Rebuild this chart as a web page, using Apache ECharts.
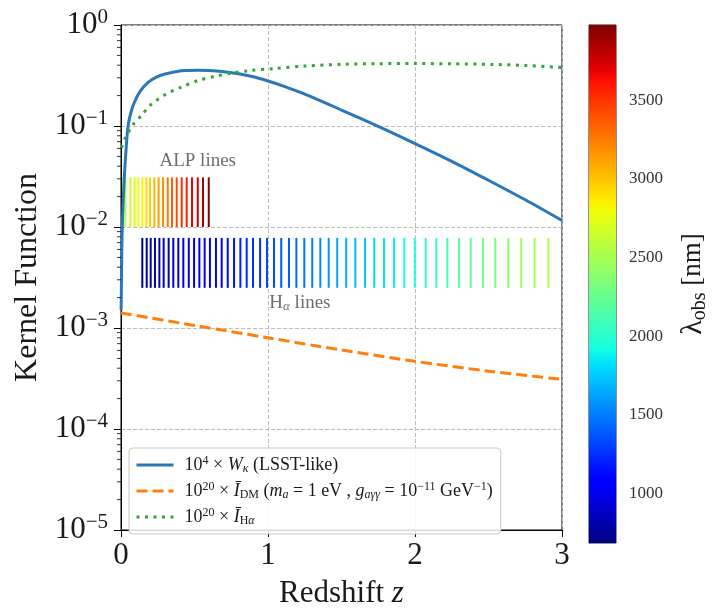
<!DOCTYPE html>
<html><head><meta charset="utf-8">
<script src="https://cdn.jsdelivr.net/npm/echarts@6/dist/echarts.min.js"></script>
<style>html,body{margin:0;padding:0;background:#fff}#c{width:715px;height:614px}</style>
</head><body><div id="c"></div>
<script>
// ---------- data ----------
const blueZ = [0.001, 0.004, 0.007, 0.015, 0.025, 0.035, 0.048, 0.07, 0.093, 0.13, 0.184, 0.24, 0.3, 0.41, 0.46, 0.52, 0.6, 0.7, 0.8, 0.9, 1.0, 1.1, 1.25, 1.5, 1.75, 2.0, 2.25, 2.5, 2.75, 3.0];
const blueV = [0.0015, 0.004, 0.008, 0.018, 0.036, 0.06, 0.1, 0.14, 0.174, 0.22, 0.27, 0.305, 0.327, 0.352, 0.355, 0.357, 0.355, 0.345, 0.329, 0.307, 0.279, 0.25, 0.207, 0.144, 0.099, 0.067, 0.0447, 0.029, 0.0186, 0.0116];
const orangeZ = [0, 0.5, 1.0, 1.5, 2.0, 2.5, 3.0];
const orangeV = [0.00141, 0.00106, 0.0008, 0.000606, 0.000468, 0.000374, 0.00031];
const greenZ = [0.003, 0.025, 0.082, 0.139, 0.2, 0.302, 0.411, 0.524, 0.637, 0.751, 0.864, 1.046, 1.25, 1.51, 1.75, 2.0, 2.25, 2.53, 2.75, 2.96, 3.0];
const greenV = [0.061, 0.074, 0.103, 0.127, 0.161, 0.205, 0.243, 0.282, 0.31, 0.334, 0.352, 0.371, 0.392, 0.409, 0.414, 0.415, 0.413, 0.407, 0.398, 0.383, 0.38];
// redshifts of the H-alpha channel lines and ALP channel lines
const haZ = [0.145, 0.175, 0.202, 0.231, 0.261, 0.290, 0.324, 0.356, 0.390, 0.424, 0.461, 0.497, 0.533, 0.569, 0.605, 0.646, 0.685, 0.726, 0.769, 0.812, 0.855, 0.898, 0.946, 0.993, 1.041, 1.090, 1.143, 1.193, 1.247, 1.301, 1.356, 1.413, 1.471, 1.532, 1.594, 1.660, 1.723, 1.789, 1.857, 1.927, 1.998, 2.073, 2.145, 2.220, 2.299, 2.379, 2.463, 2.546, 2.635, 2.723, 2.814, 2.907];
const alpZ = [0.014, 0.030, 0.064, 0.093, 0.118, 0.146, 0.173, 0.197, 0.227, 0.256, 0.286, 0.318, 0.347, 0.379, 0.413, 0.447, 0.483, 0.522, 0.558, 0.597];
const haRestNm = 656.3;     // H-alpha rest wavelength
const alpRestNm = 2479.7;   // 2hc / (1 eV)
const haBand = [0.0025, 0.0078];
const alpBand = [0.01, 0.031];
const cbRange = [686, 3977];
const cbTicks = [1000, 1500, 2000, 2500, 3000, 3500];
const minorMult = [2, 3, 4, 5, 6, 7, 8, 9];
const minorExp = [-5, -4, -3, -2, -1];
const annotPos = [[0.522, 0.0447], [1.217, 0.00175]];
const annotText = ['{n|ALP lines}', '{n|H}{s|α}{n| lines}'];

// ---------- helpers ----------
const F = 'Liberation Serif';
function interp(t, pts) {
  for (let i = 1; i < pts.length; i++) {
    if (t <= pts[i][0]) {
      const [x0, y0] = pts[i - 1], [x1, y1] = pts[i];
      return y0 + (y1 - y0) * (t - x0) / (x1 - x0);
    }
  }
  return pts[pts.length - 1][1];
}
function jet(t) {
  const r = interp(t, [[0, 0], [0.35, 0], [0.66, 1], [0.89, 1], [1, 0.5]]);
  const g = interp(t, [[0, 0], [0.125, 0], [0.375, 1], [0.64, 1], [0.91, 0], [1, 0]]);
  const b = interp(t, [[0, 0.5], [0.11, 1], [0.34, 1], [0.65, 0], [1, 0]]);
  return 'rgb(' + Math.round(r * 255) + ',' + Math.round(g * 255) + ',' + Math.round(b * 255) + ')';
}
const jetColors = [];
for (let i = 0; i <= 128; i++) jetColors.push(jet(i / 128));
const jetStops = jetColors.map((c, i) => ({ offset: i / 128, color: c }));

const pair = (xs, ys) => xs.map((x, i) => [x, ys[i]]);
const minorVals = [];
minorExp.forEach(e => minorMult.forEach(m => minorVals.push([0, m * Math.pow(10, e)])));

function lineItem(band) {
  return function (params, api) {
    const z = api.value(0);
    const lo = api.coord([z, band[0]]);
    const hi = api.coord([z, band[1]]);
    return { type: 'line', shape: { x1: lo[0], y1: lo[1], x2: hi[0], y2: hi[1] },
      style: { stroke: api.visual('color'), lineWidth: 2 } };
  };
}

const legendNames = {
  wk: '{n|10}{sup|4}{n| × }{it|W}{subi|κ}{n| (LSST-like)}',
  idm: '{n|10}{sup|20}{n| × }{it|Ī}{sub|DM}{n| (}{it|m}{subi|a}{n| = 1 eV , }{it|g}{subi|aγγ}{n| = 10}{sup|−11}{n| GeV}{sup|−1}{n|)}',
  iha: '{n|10}{sup|20}{n| × }{it|Ī}{sub|H}{subi|α}'
};

const txt = '#1a1a1a';
const chart = echarts.init(document.getElementById('c'), null, { renderer: 'canvas' });
chart.setOption({
  animation: false,
  backgroundColor: '#fff',
  grid: [
    { left: 121, right: 153, top: 25, bottom: 74, show: true, borderColor: '#000', borderWidth: 1, backgroundColor: 'transparent' },
    { left: 589, width: 27, top: 25, height: 518, show: true, borderColor: '#222', borderWidth: 1 }
  ],
  xAxis: [
    { type: 'value', gridIndex: 0, min: 0, max: 3, interval: 1,
      axisLine: { lineStyle: { color: '#000', width: 1 } },
      axisTick: { length: 7, lineStyle: { color: '#000' } },
      axisLabel: { fontFamily: F, fontSize: 31, color: txt, margin: 10 },
      splitLine: { show: true, lineStyle: { color: '#bdbdbd', type: [4, 2], width: 1 } },
      name: '{n|Redshift }{i|z}', nameLocation: 'middle', nameGap: 48,
      nameTextStyle: { rich: { n: { fontFamily: F, fontSize: 31, color: txt }, i: { fontFamily: F, fontSize: 31, fontStyle: 'italic', color: txt } } }
    },
    { type: 'value', gridIndex: 1, min: 0, max: 1, show: false }
  ],
  yAxis: [
    { type: 'log', gridIndex: 0, logBase: 10, min: 1e-5, max: 1, splitNumber: 5,
      axisLine: { show: true, lineStyle: { color: '#000', width: 1 } },
      axisTick: { show: true, length: 7, lineStyle: { color: '#000' } },
      axisLabel: { margin: 13,
        formatter: function (v) { const e = Math.round(Math.log10(v)); return '{b|10}{s|' + (e < 0 ? '\u2212' + (-e) : String(e)) + '}'; },
        rich: { b: { fontFamily: F, fontSize: 31, color: txt, lineHeight: 36 },
                s: { fontFamily: F, fontSize: 21, color: txt, verticalAlign: 'top', lineHeight: 22 } } },
      splitLine: { show: true, lineStyle: { color: '#bdbdbd', type: [4, 2], width: 1 } },
      name: 'Kernel Function', nameLocation: 'middle', nameGap: 76,
      nameTextStyle: { fontFamily: F, fontSize: 32, color: txt }
    },
    { type: 'value', gridIndex: 1, min: cbRange[0], max: cbRange[1], position: 'right',
      axisLine: { show: true, lineStyle: { color: '#222' } },
      axisTick: { show: true, length: 5, customValues: cbTicks, lineStyle: { color: '#222' } },
      axisLabel: { show: true, customValues: cbTicks, formatter: v => String(v), fontFamily: F, fontSize: 17, color: '#333', margin: 13 },
      splitLine: { show: false },
      name: '{l|λ}{s|obs}{n| [nm]}', nameLocation: 'middle', nameGap: 60,
      nameTextStyle: { rich: {
        l: { fontFamily: F, fontSize: 30, color: txt, lineHeight: 34 },
        s: { fontFamily: F, fontSize: 20, color: txt, verticalAlign: 'bottom', lineHeight: 26 },
        n: { fontFamily: F, fontSize: 27, color: txt, lineHeight: 34 } } }
    }
  ],
  visualMap: {
    type: 'continuous', show: false, min: cbRange[0], max: cbRange[1], dimension: 1,
    seriesIndex: [0, 1], inRange: { color: jetColors }
  },
  legend: {
    data: ['wk', 'idm', 'iha'], orient: 'vertical', left: 129, top: 448,
    itemWidth: 37, itemHeight: 14, itemGap: 6, padding: [7, 8, 7, 6],
    backgroundColor: 'rgba(255,255,255,0.85)', borderColor: '#c8c8c8', borderWidth: 1, borderRadius: 4,
    itemStyle: { opacity: 0 },
    lineStyle: { width: 3 },
    formatter: n => legendNames[n],
    textStyle: { padding: [0, 0, 0, 6], rich: {
      n: { fontFamily: F, fontSize: 18, color: txt, lineHeight: 20 },
      it: { fontFamily: F, fontSize: 18, fontStyle: 'italic', color: txt, lineHeight: 20 },
      sup: { fontFamily: F, fontSize: 12, color: txt, verticalAlign: 'top', lineHeight: 13 },
      sub: { fontFamily: F, fontSize: 12, color: txt, verticalAlign: 'bottom', lineHeight: 13 },
      subi: { fontFamily: F, fontSize: 12, fontStyle: 'italic', color: txt, verticalAlign: 'bottom', lineHeight: 13 } } }
  },
  series: [
    { type: 'custom', name: 'haLines', xAxisIndex: 0, yAxisIndex: 0, silent: true, z: 2,
      data: haZ.map(z => [z, haRestNm * (1 + z)]), renderItem: lineItem(haBand) },
    { type: 'custom', name: 'alpLines', xAxisIndex: 0, yAxisIndex: 0, silent: true, z: 2,
      data: alpZ.map(z => [z, alpRestNm * (1 + z)]), renderItem: lineItem(alpBand) },
    { type: 'line', name: 'wk', data: pair(blueZ, blueV), symbol: 'none', smooth: 0.3, z: 4,
      lineStyle: { color: '#2a78b8', width: 3 }, itemStyle: { color: '#2a78b8' } },
    { type: 'line', name: 'idm', data: pair(orangeZ, orangeV), symbol: 'none', smooth: 0.3, z: 4,
      lineStyle: { color: '#ff7f0e', width: 3, type: [11, 5] }, itemStyle: { color: '#ff7f0e' } },
    { type: 'line', name: 'iha', data: pair(greenZ, greenV), symbol: 'none', smooth: 0.3, z: 4,
      lineStyle: { color: '#37a337', width: 3, type: [3, 5.5] }, itemStyle: { color: '#37a337' } },
    { type: 'scatter', name: 'annot', data: annotPos, symbolSize: 0, silent: true, z: 5,
      label: { show: true, position: 'inside', formatter: p => annotText[p.dataIndex],
        rich: { n: { fontFamily: F, fontSize: 19, color: '#4a4a4a' },
                s: { fontFamily: F, fontSize: 13, fontStyle: 'italic', color: '#4a4a4a', verticalAlign: 'bottom', lineHeight: 14 } } } },
    { type: 'custom', name: 'minor', xAxisIndex: 0, yAxisIndex: 0, silent: true, clip: false, z: 6,
      data: minorVals,
      renderItem: function (params, api) {
        const p = api.coord([api.value(0), api.value(1)]);
        return { type: 'line', shape: { x1: p[0] - 4, y1: p[1], x2: p[0], y2: p[1] }, style: { stroke: '#000', lineWidth: 0.8 } };
      } },
    { type: 'custom', name: 'colorbar', xAxisIndex: 1, yAxisIndex: 1, silent: true, z: 1,
      data: [[0, cbRange[0]]],
      renderItem: function (params, api) {
        const p0 = api.coord([0, cbRange[0]]);
        const p1 = api.coord([1, cbRange[1]]);
        return { type: 'rect', shape: { x: p0[0], y: p1[1], width: p1[0] - p0[0], height: p0[1] - p1[1] },
          style: { fill: new echarts.graphic.LinearGradient(0, 1, 0, 0, jetStops) } };
      } }
  ]
});
</script></body></html>
